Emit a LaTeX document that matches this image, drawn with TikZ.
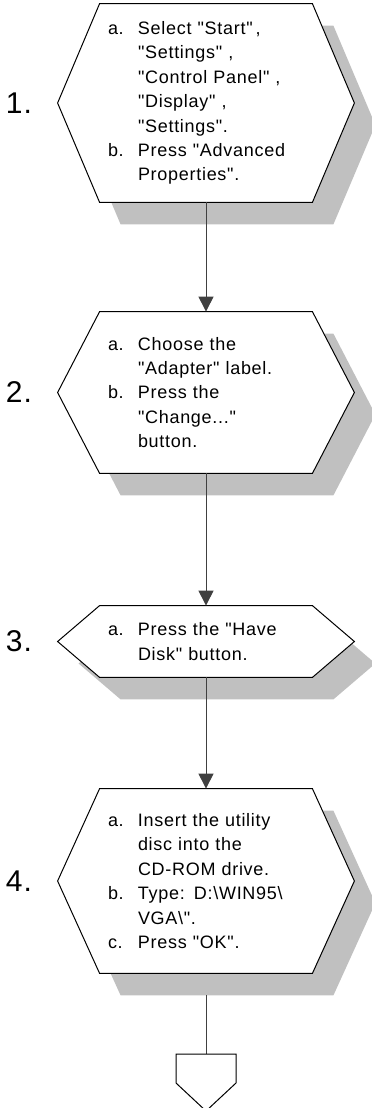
\documentclass[tikz,border=0pt]{standalone}
\usepackage{fontspec}
\setmainfont{Liberation Sans}[LetterSpace=4,Ligatures=TeXOff]
\usetikzlibrary{arrows.meta,positioning,calc,backgrounds}
\definecolor{Sombra}{HTML}{C0C0C0}
\definecolor{Linea}{HTML}{404040}
\newcommand{\etq}[1]{\makebox[15pt][l]{#1}}
\newcommand{\sig}{\hspace*{15pt}}

\begin{document}
\begin{tikzpicture}[x=0.5pt,y=-0.5pt]
        \useasboundingbox (0,0) rectangle (371,1108);
        \tikzset{
          hexa/.style={inner xsep=4pt,inner ysep=0pt,text width=98pt,align=left,font=\fontsize{9}{12.2}\selectfont},
          num/.style={inner sep=0pt,font=\fontsize{15}{15}\selectfont},
          flecha/.style={draw=Linea,line width=0.5pt,-{Triangle[width=7.5pt,length=7.5pt]}}
        }
        % pasos
        \node[hexa,minimum height=99pt] (h1) at (206,103) {\etq{a.}Select "Start"\,,\\\sig"Settings" ,\\\sig"Control Panel" ,\\\sig"Display" ,\\\sig"Settings".\\\etq{b.}Press "Advanced\\\sig Properties".};
        \node[hexa,minimum height=80.5pt] (h2) at (206,392.5) {\etq{a.}Choose the\\\sig"Adapter" label.\\\etq{b.}Press the\\\sig"Change..."\\\sig button.};
        \node[hexa,minimum height=35.5pt] (h3) at (206,641.5) {\etq{a.}Press the "Have\\\sig Disk" button.};
        \node[hexa,minimum height=92pt] (h4) at (206,881) {\etq{a.}Insert the utility\\\sig disc into the\\\sig CD-ROM drive.\\\etq{b.}Type: D:\textbackslash WIN95\textbackslash\\\sig VGA\textbackslash".\\\etq{c.}Press "OK".};
        \node[num] (n1) at (19,103) {1.};
        \node[num] (n2) at (19,392.5) {2.};
        \node[num] (n3) at (19,641.5) {3.};
        \node[num] (n4) at (19,881) {4.};
        % hexagonos con sombra
        \begin{scope}[on background layer]
          \foreach \h in {h1,h2,h3,h4}{
            \fill[Sombra] ([shift={(21,22)}]\h.north west) -- ([shift={(21,22)}]\h.north east) -- ([shift={(63,22)}]\h.east) -- ([shift={(21,22)}]\h.south east) -- ([shift={(21,22)}]\h.south west) -- ([shift={(-21,22)}]\h.west) -- cycle;
            \draw[fill=white,line width=0.5pt] (\h.north west) -- (\h.north east) -- ([xshift=21pt]\h.east) -- (\h.south east) -- (\h.south west) -- ([xshift=-21pt]\h.west) -- cycle;
          }
        \end{scope}
        \draw[flecha] (h1) -- (h2);
        \draw[flecha] (h2) -- (h3);
        \draw[flecha] (h3) -- (h4);
        % conector de pagina
        \coordinate (fin) at (206,1054);
        \draw[Linea,line width=0.5pt,shorten <=11pt] (h4) -- (fin);
        \draw[line width=0.5pt,fill=white] (fin) ++(-30,0) -- ++(60,0) -- ++(0,29) -- ++(-30,28) -- ++(-30,-28) -- cycle;
      \end{tikzpicture}
\end{document}
